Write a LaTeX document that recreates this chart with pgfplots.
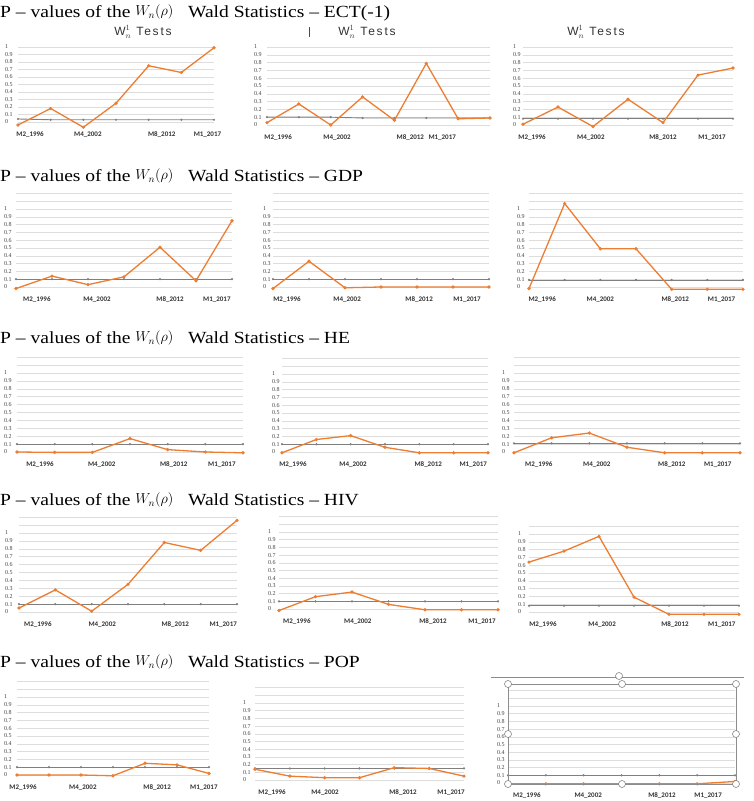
\documentclass[border=0pt]{standalone}
\usepackage{fontspec}
\setmainfont{Liberation Serif}
\newfontfamily\titlefont[FakeStretch=1.15, Ligatures=TeX]{Liberation Serif}
\newfontfamily\carlito{Carlito}
\newfontfamily\arialwide[LetterSpace=15]{Liberation Sans}
\usepackage{pgfplots}
\pgfplotsset{compat=1.18}
\definecolor{xlorange}{HTML}{ED7D31}
\definecolor{xlgray}{HTML}{7F7F7F}
\definecolor{xlgrid}{HTML}{DDDDDD}

\pgfplotsset{
  panel/.style={
    scale only axis, anchor=south west, clip=false,
    ymin=-0.1, enlarge x limits=false,
    axis line style={draw=none}, tick style={draw=none},
    ytick={0,0.1,0.2,0.3,0.4,0.5,0.6,0.7,0.8,0.9,1},
    extra y ticks={1.1,1.2}, extra y tick labels={},
    extra tick style={grid=major},
    ymajorgrids, major grid style={xlgrid, line width=0.5pt},
    xticklabels={M2\_1996,M4\_2002,M8\_2012,M1\_2017},
    /pgf/number format/assume math mode=true,
    yticklabel style={font=\fontsize{6}{6}\selectfont, anchor=west, inner sep=0pt, text=black!75},
    xticklabel style={font=\carlito\bfseries\fontsize{7}{7}\selectfont, anchor=north, inner sep=0pt, yshift=-2pt, text=black!80},
  },
  orangeline/.style={xlorange, line width=1.3pt, mark=*, mark size=0.9pt, mark options={solid}},
  grayline/.style={xlgray, line width=0.9pt, mark=*, mark size=0.6pt},
}

% #1 left px, #2 right px, #3 y of value 0, #4 y of value 1, #5 ymax,
% #6 gap of y labels, #7 x tick spots, #8 orange series, #9 gray series
\newcommand\panel[9]{%
  \pgfmathsetmacro\pSp{(#3-#4)/10}%
  \pgfmathsetmacro\pH{(#5+0.1)*10*\pSp}%
  \pgfmathsetmacro\pW{#2-#1}%
  \pgfmathsetmacro\pY{801-#3-\pSp}%
  \begin{axis}[panel, at={(#1pt,\pY pt)}, width=\pW pt, height=\pH pt, ymax=#5,
    xtick={#7}, yticklabel style={xshift=-#6pt}]
  \addplot[grayline] coordinates {#9};
  \addplot[orangeline] coordinates {#8};
  \end{axis}}

\newcommand\rowtitle[2]{%
  \node[anchor=base west, inner sep=0pt, font=\titlefont\fontsize{17}{17}\selectfont] at (0,#1)
    {P – values of the \raisebox{2pt}{\fontsize{14}{14}\selectfont$W_n(\rho)$}\ \ \ Wald Statistics – #2};}

\begin{document}
\begin{tikzpicture}
\path[use as bounding box] (0,0) rectangle (753pt,801pt);

% ECT(-1)
\panel{18}{214}{122}{47}{1.0}{13}{0.37,2.14,4.4,5.8}
  {(0,-0.04)(1,0.18)(2,-0.07)(3,0.25)(4,0.75)(5,0.66)(6,0.99)}
  {(0,0.04)(1,0.03)(2,0.03)(3,0.03)(4,0.03)(5,0.03)(6,0.03)}
\panel{267}{490}{125}{47}{1.0}{13}{0.35,2.2,4.5,5.5}
  {(0,0.03)(1,0.27)(2,0.0)(3,0.36)(4,0.06)(5,0.79)(6,0.08)(7,0.09)}
  {(0,0.1)(1,0.1)(2,0.1)(3,0.09)(4,0.09)(5,0.09)(6,0.09)(7,0.09)}
\panel{523}{733}{125}{47}{1.0}{10}{0.26,1.94,4.0,5.4}
  {(0,0.01)(1,0.23)(2,-0.02)(3,0.33)(4,0.03)(5,0.64)(6,0.73)}
  {(0,0.08)(1,0.08)(2,0.08)(3,0.08)(4,0.08)(5,0.08)(6,0.08)}

% GDP
\panel{16}{232}{287}{209}{1.2}{12}{0.58,2.25,4.28,5.58}
  {(0,-0.02)(1,0.14)(2,0.03)(3,0.13)(4,0.51)(5,0.08)(6,0.85)}
  {(0,0.1)(1,0.1)(2,0.1)(3,0.1)(4,0.1)(5,0.1)(6,0.1)}
\panel{273}{489}{287}{209}{1.2}{10}{0.39,2.06,4.06,5.39}
  {(0,-0.02)(1,0.33)(2,-0.01)(3,0)(4,0)(5,0)(6,0)}
  {(0,0.1)(1,0.1)(2,0.1)(3,0.1)(4,0.1)(5,0.1)(6,0.1)}
\panel{529}{743}{287}{209}{1.2}{12}{0.37,2.0,4.1,5.4}
  {(0,-0.02)(1,1.07)(2,0.49)(3,0.49)(4,-0.03)(5,-0.03)(6,-0.03)}
  {(0,0.09)(1,0.09)(2,0.09)(3,0.09)(4,0.09)(5,0.09)(6,0.09)}

% HE
\panel{17}{243}{452}{373}{1.2}{13}{0.61,2.25,4.16,5.44}
  {(0,0)(1,-0.005)(2,-0.005)(3,0.17)(4,0.03)(5,0)(6,-0.01)}
  {(0,0.1)(1,0.1)(2,0.1)(3,0.1)(4,0.1)(5,0.1)(6,0.1)}
\panel{282}{488}{452}{374}{1.2}{10}{0.32,2.07,4.26,5.57}
  {(0,-0.01)(1,0.16)(2,0.21)(3,0.06)(4,-0.01)(5,-0.01)(6,-0.01)}
  {(0,0.1)(1,0.1)(2,0.1)(3,0.1)(4,0.1)(5,0.1)(6,0.1)}
\panel{514}{740}{452}{373}{1.2}{12}{0.66,2.2,4.19,5.41}
  {(0,-0.01)(1,0.18)(2,0.24)(3,0.06)(4,-0.01)(5,-0.01)(6,-0.01)}
  {(0,0.11)(1,0.11)(2,0.11)(3,0.11)(4,0.11)(5,0.11)(6,0.11)}

% HIV
\panel{19}{237}{612}{533}{1.2}{14}{0.52,2.29,4.3,5.62}
  {(0,0.05)(1,0.28)(2,0.01)(3,0.35)(4,0.88)(5,0.78)(6,1.16)}
  {(0,0.1)(1,0.1)(2,0.1)(3,0.1)(4,0.1)(5,0.1)(6,0.1)}
\panel{279}{498}{609}{532}{1.2}{11}{0.49,2.16,4.22,5.56}
  {(0,-0.02)(1,0.16)(2,0.22)(3,0.06)(4,-0.01)(5,-0.01)(6,-0.01)}
  {(0,0.1)(1,0.1)(2,0.1)(3,0.1)(4,0.1)(5,0.1)(6,0.1)}
\panel{529}{739}{612}{534}{1.1}{11}{0.4,2.09,4.17,5.51}
  {(0,0.64)(1,0.78)(2,0.97)(3,0.19)(4,-0.03)(5,-0.03)(6,-0.03)}
  {(0,0.08)(1,0.08)(2,0.08)(3,0.08)(4,0.08)(5,0.08)(6,0.08)}

% POP
\panel{17}{209}{775}{697}{1.2}{13}{0.19,2.06,4.38,5.84}
  {(0,0)(1,0)(2,0)(3,-0.01)(4,0.15)(5,0.13)(6,0.02)}
  {(0,0.1)(1,0.1)(2,0.1)(3,0.1)(4,0.1)(5,0.1)(6,0.1)}
\panel{255}{464}{780}{703}{1.2}{12}{0.49,2.01,4.25,5.63}
  {(0,0.14)(1,0.05)(2,0.03)(3,0.03)(4,0.16)(5,0.15)(6,0.05)}
  {(0,0.15)(1,0.15)(2,0.15)(3,0.15)(4,0.15)(5,0.15)(6,0.15)}
\panel{508}{735}{783}{706}{1.2}{11}{0.5,2.12,4.07,5.29}
  {(0,-0.01)(1,-0.01)(2,-0.01)(3,-0.01)(4,-0.01)(5,-0.01)(6,0.02)}
  {(0,0.1)(1,0.1)(2,0.1)(3,0.1)(4,0.1)(5,0.1)(6,0.1)}

% titles and decorations, in pixel coordinates from the top left
\begin{scope}[shift={(0,801pt)}, x=1pt, y=-1pt]
  \rowtitle{18}{ECT(-1)}
  \rowtitle{182}{GDP}
  \rowtitle{344}{HE}
  \rowtitle{506}{HIV}
  \rowtitle{668}{POP}
  \foreach \cx in {143,367,596}
    \node[font=\arialwide\fontsize{12}{12}\selectfont, text=black!80] at (\cx,32) {W$_n^1$ Tests};
  \draw[black!70, line width=0.6pt] (309,27) -- (309,37);
  % selection frame of the last chart
  \draw[black!45, line width=0.5pt] (491,677) -- (744,677);
  \draw[black!45, line width=0.5pt] (508,684) rectangle (736,784);
  \foreach \hx/\hy in {508/684,622/684,736/684,508/734,736/734,508/784,622/784,736/784,619/676}
    \draw[black!55, fill=white, line width=0.5pt] (\hx,\hy) circle (3.5);
\end{scope}
\end{tikzpicture}
\end{document}
